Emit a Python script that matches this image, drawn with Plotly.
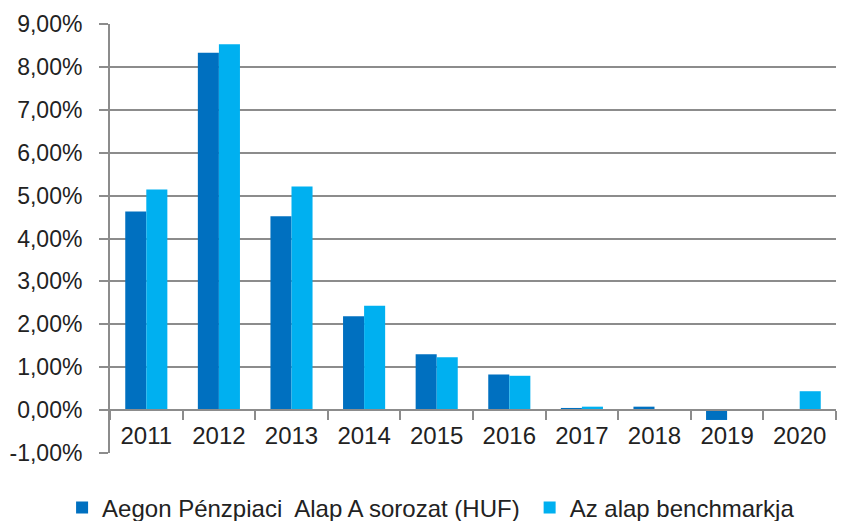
import plotly.graph_objects as go

years = ["2011", "2012", "2013", "2014", "2015", "2016", "2017", "2018", "2019", "2020"]
fund_name = "Aegon Pénzpiaci  Alap A sorozat (HUF)"
bench_name = "Az alap benchmarkja"
fund = [4.63, 8.33, 4.52, 2.19, 1.30, 0.83, 0.05, 0.08, -0.23, 0.0]
bench = [5.14, 8.53, 5.21, 2.43, 1.23, 0.80, 0.08, 0.0, 0.0, 0.44]
ytick_vals = [-1, 0, 1, 2, 3, 4, 5, 6, 7, 8, 9]
ytick_text = ["-1,00%", "0,00%", "1,00%", "2,00%", "3,00%", "4,00%", "5,00%",
              "6,00%", "7,00%", "8,00%", "9,00%"]

FONT = "Liberation Sans"
GRID = "#8c8c8c"
TXT = "#222222"

fig = go.Figure()
fig.add_trace(go.Bar(x=years, y=fund, name=fund_name, marker_color="#0070C0",
                     marker_line_width=0, legend="legend"))
fig.add_trace(go.Bar(x=years, y=bench, name=bench_name, marker_color="#00B0F0",
                     marker_line_width=0, legend="legend2"))

leg_common = dict(orientation="h", xanchor="left", y=-0.128, yanchor="middle",
                  font=dict(size=24, color=TXT), itemwidth=30,
                  bgcolor="rgba(0,0,0,0)")

fig.update_layout(
    width=847, height=521,
    margin=dict(l=102, r=19, t=16, b=76, autoexpand=False),
    paper_bgcolor="white", plot_bgcolor="white",
    barmode="group", bargap=0.42, bargroupgap=0,
    font=dict(family=FONT, size=23, color=TXT),
    showlegend=True,
    legend=dict(x=-0.066, **leg_common),
    legend2=dict(x=0.578, **leg_common),
    xaxis=dict(
        anchor="free", position=0.1,
        showline=True, linecolor=GRID, linewidth=2,
        ticks="outside", tickson="boundaries", ticklen=9, tickwidth=2, tickcolor=GRID,
        ticklabelstandoff=4,
        showgrid=False, tickfont=dict(size=24, color=TXT),
    ),
    yaxis=dict(
        range=[-1, 9], tickvals=ytick_vals, ticktext=ytick_text,
        showline=True, linecolor=GRID, linewidth=2,
        ticks="outside", ticklen=9, tickwidth=2, tickcolor=GRID,
        ticklabelstandoff=12,
        showgrid=True, gridcolor=GRID, gridwidth=2, zeroline=False,
        tickfont=dict(size=23, color=TXT),
    ),
)

fig.write_html("out.html")
